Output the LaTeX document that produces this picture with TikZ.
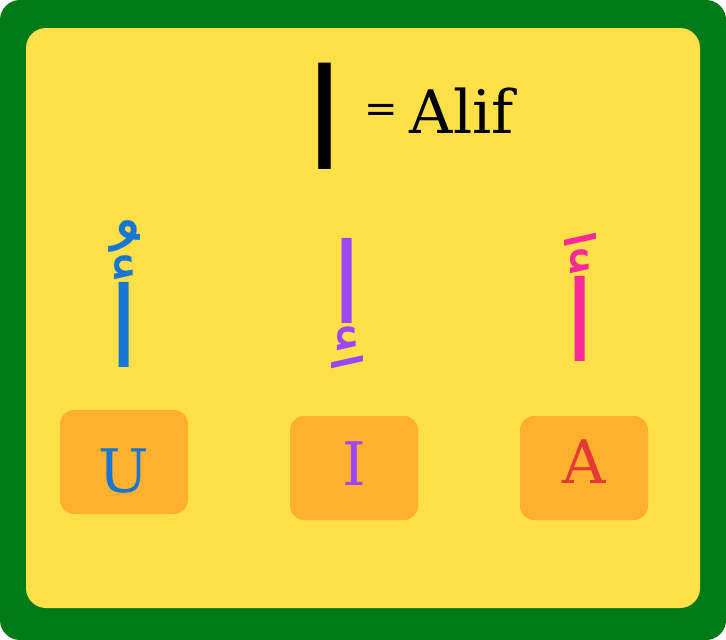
\documentclass[tikz,border=0pt]{standalone}
\usepackage{fontspec}
\setmainfont{DejaVu Serif}
\newfontfamily\arabicfont[Script=Arabic]{DejaVu Sans}
\TeXXeTstate=1
\definecolor{framegreen}{HTML}{007A16}
\definecolor{paneyellow}{HTML}{FFE048}
\definecolor{boxorange}{HTML}{FFB02E}
\definecolor{dammablue}{HTML}{1976D2}
\definecolor{kasrapurple}{HTML}{9C46FF}
\definecolor{fathapink}{HTML}{F72A9A}
\definecolor{letterred}{HTML}{E53935}
\begin{document}
\begin{tikzpicture}
[x=1pt,y=-1pt,
vowelbox/.style={fill=boxorange,rounded corners=14pt,minimum width=128pt,minimum height=104pt,inner sep=0pt,text height=44pt,text depth=0pt,font=\fontsize{60}{60}\selectfont},
arabic/.style={inner sep=0pt,font=\arabicfont\fontsize{140}{140}\selectfont},
marked/.style={arabic,font=\arabicfont\fontsize{112}{112}\selectfont}]
\useasboundingbox (0,0) rectangle (726,640);
\fill[framegreen,rounded corners=20pt] (0,0) rectangle (726,640);
\fill[paneyellow,rounded corners=20pt] (26,28) rectangle (700,608);
% title
\node[arabic] (alif) at (325,116) {\beginR ا\endR};
\node[anchor=base west,inner sep=0pt,font=\fontsize{60}{60}\selectfont] (name) at (364,133) {\raisebox{11pt}{\fontsize{40}{40}\selectfont=}\hspace{12pt}Alif};
% letters with vowels
\node[marked,text=dammablue] (damma) at (124,294) {\beginR أُ\endR};
\node[marked,text=kasrapurple] (kasra) at (347,304) {\beginR إِ\endR};
\node[marked,text=fathapink] (fatha) at (580,297) {\beginR أَ\endR};
% sounds
\node[vowelbox,text=dammablue] (u) at (124,462) {\raisebox{-8pt}{U}};
\node[vowelbox,text=kasrapurple] (i) at (354,468) {\raisebox{5pt}{I}};
\node[vowelbox,text=letterred] (a) at (584,468) {\raisebox{7pt}{A}};
\end{tikzpicture}
\end{document}
